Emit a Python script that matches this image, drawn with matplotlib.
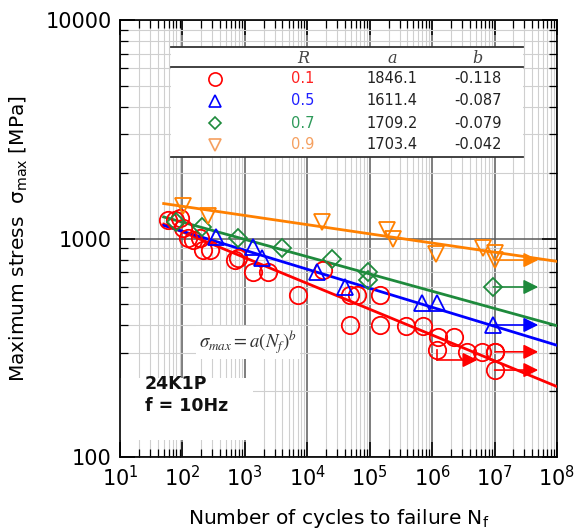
import numpy as np
import matplotlib
matplotlib.use('Agg')
from matplotlib import pyplot as plt
from matplotlib.patches import Rectangle
from matplotlib.ticker import LogLocator, FixedLocator, NullFormatter

# Fit parameters (from the table)
R_values = ['0.1', '0.5', '0.7', '0.9']
a_values = [1846.1, 1611.4, 1709.2, 1703.4]
b_values = [-0.118, -0.087, -0.079, -0.042]

# R = 0.1 (circles)
n_r01 = [59, 76, 92, 102, 123, 148, 191, 214, 277, 696, 778, 1350, 2350, 7100,
         18000, 48000, 63000, 147000, 48000, 147000, 380000, 720000, 1.25e6,
         2.25e6, 1.2e6, 3.6e6, 6.3e6, 1.02e7]
s_r01 = [1215, 1215, 1240, 1117, 1005, 985, 1005, 885, 885, 797, 815, 703, 703, 551,
         718, 551, 551, 551, 402, 402, 398, 398, 354,
         354, 309, 303, 303, 303]
runout_r01_n = [1.02e7, 1.0e7]
runout_r01_s = [303, 250]

# R = 0.5 (triangles up)
n_r05 = [345, 1350, 1900, 14300, 40400, 692000, 1.2e6]
s_r05 = [1016, 914, 815, 703, 600, 507, 507]
runout_r05_n = [9.5e6]
runout_r05_s = [402]

# R = 0.7 (diamonds)
n_r07 = [80, 206, 778, 3950, 24900, 94000, 94000]
s_r07 = [1190, 1130, 1005, 903, 806, 703, 645]
runout_r07_n = [9.5e6]
runout_r07_s = [600]

# R = 0.9 (triangles down)
n_r09 = [102, 257, 17300, 190000, 237000, 1.16e6, 6.6e6, 1.02e7]
s_r09 = [1410, 1267, 1190, 1094, 996, 849, 903, 858]
runout_r09_n = [1.0e7]
runout_r09_s = [797]

# odd runout of R = 0.1 (line down then right)
odd_n = [1.2e6, 1.2e6, 5.3e6]
odd_s = [309, 278, 278]

colors = ['#ff0000', '#0000ff', '#1e8a3c', '#ff8000']
table_colors = ['#ff2020', '#2020ff', '#2e9a5a', '#f5a060']
markers = ['o', '^', 'D', 'v']
msizes = [12.5, 11.5, 9.5, 11.5]

fig = plt.figure(figsize=(5.79, 5.30), dpi=100)
ax = fig.add_axes([0.2073, 0.1377, 0.7547, 0.8246])
ax.set_xscale('log')
ax.set_yscale('log')
ax.set_xlim(10, 1e8)
ax.set_ylim(100, 10000)
ax.set_axisbelow(True)

ax.xaxis.set_major_locator(FixedLocator([10.0 ** k for k in range(1, 9)]))
ax.xaxis.set_minor_locator(LogLocator(base=10, subs=np.arange(2, 10), numticks=20))
ax.yaxis.set_major_locator(FixedLocator([100, 1000, 10000]))
ax.yaxis.set_minor_locator(LogLocator(base=10, subs=np.arange(2, 10), numticks=20))
ax.xaxis.set_minor_formatter(NullFormatter())
ax.yaxis.set_minor_formatter(NullFormatter())
ax.set_xticklabels([r'$\mathregular{10^{%d}}$' % k for k in range(1, 9)])
ax.set_yticklabels(['100', '1000', '10000'])

ax.grid(which='major', color='#5a5a5a', lw=1.1)
ax.grid(which='minor', color='#cfcfcf', lw=0.8)
ax.tick_params(which='both', direction='in', top=True, right=True, labelsize=15, color='black')
ax.tick_params(which='major', length=11, width=1.1, pad=6)
ax.tick_params(which='minor', length=6, width=0.9)
for sp in ax.spines.values():
    sp.set_linewidth(1.2)

ax.set_xlabel(r'Number of cycles to failure N$_\mathregular{f}$', fontsize=14.5)
ax.set_ylabel(r'Maximum stress  σ$_\mathregular{max}$ [MPa]', fontsize=14.5)
ax.xaxis.set_label_coords(0.5, -0.115)
ax.yaxis.set_label_coords(-0.205, 0.5)

# white boxes covering the grid
ax.add_patch(Rectangle((0.117, 0.6865), 0.805, 0.2515, transform=ax.transAxes,
                       facecolor='white', edgecolor='none', zorder=1))
ax.add_patch(Rectangle((0.0, 0.04), 0.305, 0.14, transform=ax.transAxes,
                       facecolor='white', edgecolor='none', zorder=1))

# fit lines
n_fit = np.logspace(np.log10(50), 8, 50)
for a, b, c in zip(a_values, b_values, colors):
    ax.plot(n_fit, a * n_fit ** b, color=c, lw=2.0, zorder=3)

# data points
series = [(n_r01, s_r01), (n_r05, s_r05), (n_r07, s_r07), (n_r09, s_r09)]
for (n, s), c, m, ms in zip(series, colors, markers, msizes):
    ax.plot(n, s, ls='none', marker=m, ms=ms, mfc='none', mec=c, mew=1.3, zorder=4)

# runout points with arrows
runouts = [(runout_r01_n, runout_r01_s), (runout_r05_n, runout_r05_s),
           (runout_r07_n, runout_r07_s), (runout_r09_n, runout_r09_s)]
for (n, s), c, m, ms in zip(runouts, colors, markers, msizes):
    ax.plot(n, s, ls='none', marker=m, ms=ms, mfc='none', mec=c, mew=1.3, zorder=4)
    for ni, si in zip(n, s):
        ax.annotate('', xy=(5e7, si), xytext=(ni, si),
                    arrowprops=dict(arrowstyle='-|>', color=c, lw=1.2, mutation_scale=22,
                                    shrinkA=0, shrinkB=0), zorder=5)
ax.plot(odd_n[:2], odd_s[:2], color=colors[0], lw=1.2, zorder=5)
ax.annotate('', xy=(odd_n[2], odd_s[2]), xytext=(odd_n[1], odd_s[1]),
            arrowprops=dict(arrowstyle='-|>', color=colors[0], lw=1.2, mutation_scale=22,
                            shrinkA=0, shrinkB=0), zorder=5)

# table
tr = ax.transAxes
for y in [0.938, 0.892, 0.6865]:
    ax.plot([0.117, 0.922], [y, y], transform=tr, color='#333333', lw=1.3, zorder=6)
col_x = [0.217, 0.419, 0.622, 0.819]
row_y = [0.865, 0.815, 0.764, 0.714]
hdr_y = 0.913
for cx, h in zip(col_x[1:], ['R', 'a', 'b']):
    ax.text(cx, hdr_y, h, transform=tr, ha='center', va='center', fontsize=11.5,
            family='DejaVu Serif', style='italic', color='#444444', zorder=6)
for i in range(4):
    ax.plot([col_x[0]], [row_y[i]], transform=tr, ls='none', marker=markers[i],
            ms=msizes[i] - 3, mfc='none', mec=table_colors[i] if i == 3 else colors[i],
            mew=1.2, zorder=6)
    ax.text(col_x[1], row_y[i], R_values[i], transform=tr, ha='center', va='center',
            fontsize=10.5, color=table_colors[i], zorder=6)
    ax.text(col_x[2], row_y[i], '%.1f' % a_values[i], transform=tr, ha='center',
            va='center', fontsize=10.5, color='#222222', zorder=6)
    ax.text(col_x[3], row_y[i], '%.3f' % b_values[i], transform=tr, ha='center',
            va='center', fontsize=10.5, color='#222222', zorder=6)

# formula and material label
ax.text(0.293, 0.262, r'$\sigma_{max} = a\left(N_f\right)^b$', transform=tr,
        ha='center', va='center', fontsize=13.5, color='#333333', math_fontfamily='stix',
        bbox=dict(facecolor='white', edgecolor='none', pad=2), zorder=6)
ax.text(0.057, 0.142, '24K1P\nf = 10Hz', transform=tr, ha='left', va='center',
        fontsize=12.5, fontweight='bold', linespacing=1.25, color='#111111', zorder=6)

fig.savefig('out.png', dpi=100)
